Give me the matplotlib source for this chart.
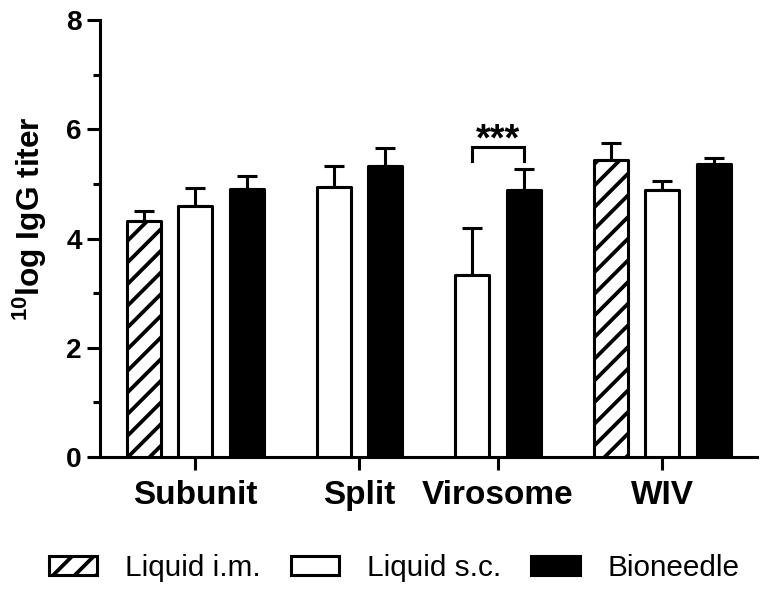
import numpy as np
import matplotlib
matplotlib.use('Agg')
import matplotlib.pyplot as plt
from matplotlib.patches import Patch
from matplotlib.ticker import MultipleLocator

plt.rcParams['font.family'] = ['Liberation Sans', 'DejaVu Sans']
plt.rcParams['mathtext.fontset'] = 'custom'
plt.rcParams['mathtext.rm'] = 'Liberation Sans'
plt.rcParams['mathtext.bf'] = 'Liberation Sans:bold'
plt.rcParams['hatch.linewidth'] = 2.1

# data (nan = not tested)
groups = ['Subunit', 'Split', 'Virosome', 'WIV']
series = ['Liquid i.m.', 'Liquid s.c.', 'Bioneedle']
liquid_im = [4.32, np.nan, np.nan, 5.43]
liquid_im_err = [0.19, np.nan, np.nan, 0.32]
liquid_sc = [4.60, 4.95, 3.33, 4.88]
liquid_sc_err = [0.33, 0.38, 0.86, 0.18]
bioneedle = [4.91, 5.33, 4.88, 5.37]
bioneedle_err = [0.24, 0.33, 0.39, 0.11]

values = [liquid_im, liquid_sc, bioneedle]
errors = [liquid_im_err, liquid_sc_err, bioneedle_err]
faces = ['white', 'white', 'black']
hatches = ['//', None, None]

# dpi 130 so that the hatch has about the same spacing as the original
fig = plt.figure(figsize=(767 / 130, 593 / 130), dpi=130)
ax = fig.add_axes([0.1304, 0.2293, 0.8566, 0.737])

lw = 1.7
width = 0.66
gap = 0.69
cursor = 0.0
tickpos = []
barpos = {}
for g in range(len(groups)):
    pos_g = []
    for s in range(len(series)):
        if np.isnan(values[s][g]):
            continue
        barpos[(s, g)] = cursor
        pos_g.append(cursor)
        cursor += 1
    tickpos.append(np.mean(pos_g))
    cursor += gap

for (s, g), x in barpos.items():
    v = values[s][g]
    e = errors[s][g]
    ax.bar(x, v, width=width, facecolor=faces[s], edgecolor='black',
           linewidth=lw, hatch=hatches[s], zorder=3, joinstyle='round')
    ax.errorbar(x, v, yerr=[[0], [e]], fmt='none', ecolor='black',
                elinewidth=lw, capsize=5.8, capthick=lw, zorder=2)

# significance bracket, virosome s.c. vs bioneedle
x1 = barpos[(1, 2)]
x2 = barpos[(2, 2)]
ax.plot([x1, x1, x2, x2], [5.42, 5.68, 5.68, 5.42], color='black', lw=lw,
        solid_joinstyle='miter', zorder=4)
ax.text((x1 + x2) / 2, 5.80, '***', ha='center', va='center',
        fontsize=21, fontweight='bold')

ax.set_xlim(-0.845, 11.91)
ax.set_ylim(0, 8)
ax.yaxis.set_major_locator(MultipleLocator(2))
ax.yaxis.set_minor_locator(MultipleLocator(1))
ax.set_xticks(tickpos)
ax.set_xticklabels(groups)

for side in ['top', 'right']:
    ax.spines[side].set_visible(False)
for side in ['left', 'bottom']:
    ax.spines[side].set_linewidth(lw)
ax.tick_params(axis='both', which='major', width=lw, length=7)
ax.tick_params(axis='x', which='major', pad=6, labelsize=18.5)
ax.tick_params(axis='y', which='major', pad=3, labelsize=15.5)
ax.tick_params(axis='y', which='minor', width=lw, length=4)
for lab in ax.get_xticklabels() + ax.get_yticklabels():
    lab.set_fontweight('bold')

ax.set_ylabel(r'$\mathbf{{}^{10}}$log IgG titer', fontsize=17.5, fontweight='bold')
ax.yaxis.set_label_coords(-0.078, 0.546)

handles = [Patch(facecolor=faces[i], edgecolor='black', linewidth=lw,
                 hatch=hatches[i], label=series[i]) for i in range(3)]
fig.legend(handles=handles, loc='center', bbox_to_anchor=(0.514, 0.042),
           ncol=3, frameon=False, fontsize=16.5, handlelength=1.62,
           handleheight=0.6, handletextpad=0.95, columnspacing=1.0)

fig.savefig('out.png', dpi=130)
